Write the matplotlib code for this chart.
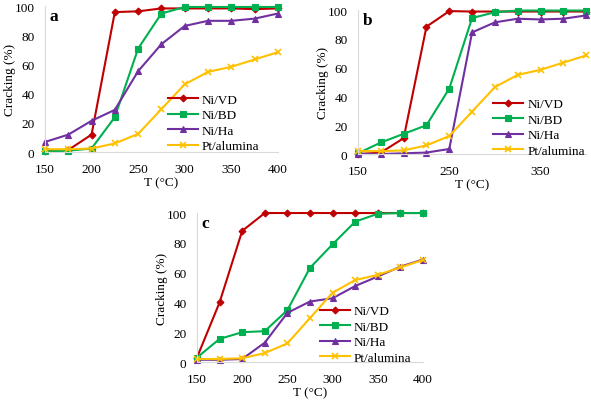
import matplotlib
matplotlib.use("Agg")
import matplotlib.pyplot as plt

plt.rcParams['font.family'] = ['Liberation Serif', 'DejaVu Serif']

temps = [150, 175, 200, 225, 250, 275, 300, 325, 350, 375, 400]
series_names = ["Ni/VD", "Ni/BD", "Ni/Ha", "Pt/alumina"]

a_vd = [1, 1.5, 12, 96, 96.5, 98.5, 98.5, 98.5, 98.5, 98, 98.5]
a_bd = [0.5, 1, 2.5, 24, 71, 95, 99.5, 99.5, 99.5, 99.5, 99.5]
a_ha = [7, 12, 21.5, 29, 55.5, 74, 86.5, 90, 90, 91.5, 95]
a_pt = [2, 2, 2.5, 6, 12.5, 29.5, 46.5, 55, 58.5, 63.5, 68.5]

b_vd = [0, 1, 11, 88.5, 99.3, 99, 99, 99, 99, 99, 99]
b_bd = [0.5, 8, 14, 20, 45.5, 94.5, 98.5, 99.7, 99.7, 99.7, 99.7]
b_ha = [0, 0, 0.5, 1, 3.5, 84.5, 91.5, 94, 93.5, 94, 96.3]
b_pt = [2, 2, 2.5, 6, 12.5, 29.5, 46.5, 55, 58.5, 63.5, 68.5]

c_vd = [3, 40, 88, 100, 100, 100, 100, 100, 100, 100, 100]
c_bd = [3, 15.5, 20, 20.7, 34.8, 63.2, 79, 94.2, 99.5, 100, 100]
c_ha = [1.5, 1.5, 2, 13, 33, 40.6, 42.8, 51, 57.4, 64, 68.8]
c_pt = [2, 2, 2.5, 6, 12.5, 29.5, 46.5, 55, 58.5, 63.5, 68.5]

colors = ["#C00000", "#00B050", "#7030A0", "#FFC000"]
markers = ["D", "s", "^", "x"]
msizes = [3.5, 5, 5, 5]

fig = plt.figure(figsize=(5.91, 4.02), dpi=100)

panels = [
    ("a", [0.0761, 0.619, 0.394, 0.363], [a_vd, a_bd, a_ha, a_pt], [150, 200, 250, 300, 350, 400], (0.955, -0.055)),
    ("b", [0.6058, 0.6144, 0.386, 0.358], [b_vd, b_bd, b_ha, b_pt], [150, 250, 350], (1.03, -0.075)),
    ("c", [0.3333, 0.097, 0.3824, 0.3706], [c_vd, c_bd, c_ha, c_pt], [150, 200, 250, 300, 350, 400], (0.985, -0.065)),
]

fs = 9.5
for lab, pos, data, xt, lanchor in panels:
    ax = fig.add_axes(pos)
    for name, vals, col, mk, ms in zip(series_names, data, colors, markers, msizes):
        ax.plot(temps, vals, color=col, marker=mk, markersize=ms, linewidth=1.5,
                markeredgewidth=1.2 if mk == "x" else 0.8, label=name, clip_on=False)
    ax.set_xlim(150, 400)
    ax.set_ylim(0, 100)
    ax.set_xticks(xt)
    ax.set_yticks([0, 20, 40, 60, 80, 100])
    ax.tick_params(axis="x", length=0, labelsize=fs, pad=8)
    ax.tick_params(axis="y", length=0, labelsize=fs, pad=7.5)
    for s in ["top", "right"]:
        ax.spines[s].set_visible(False)
    for s in ["left", "bottom"]:
        ax.spines[s].set_color("#D9D9D9")
        ax.spines[s].set_linewidth(0.8)
    ax.set_xlabel("T (°C)", fontsize=fs, labelpad=1)
    ax.set_ylabel("Cracking (%)", fontsize=fs, labelpad=-1)
    ax.text(0.02, 0.985, lab, transform=ax.transAxes, fontsize=12.5, fontweight="bold",
            va="top", ha="left")
    ax.legend(loc="lower right", bbox_to_anchor=lanchor, frameon=False, fontsize=fs,
              handlelength=2.3, labelspacing=0.25, handletextpad=0.3, borderaxespad=0.2)

fig.savefig("out.png", dpi=100)
